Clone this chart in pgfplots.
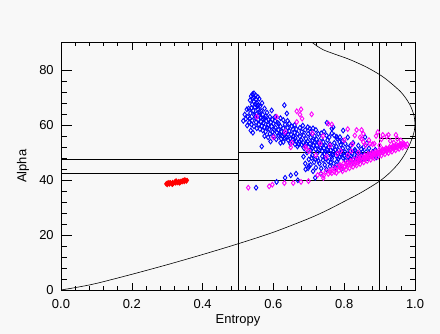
\documentclass[border=0pt]{standalone}
\usepackage{pgfplots}
\pgfplotsset{compat=1.18}
\usepackage{fontspec}
\setmainfont{Liberation Sans}
\definecolor{bg}{RGB}{248,248,248}
\definecolor{pblue}{RGB}{0,0,255}
\definecolor{pmag}{RGB}{255,0,255}
\definecolor{pred}{RGB}{255,0,0}
\pgfplotsset{
  hbase/.style={
    at={(61bp,44bp)}, anchor=south west,
    width=354bp, height=247.5bp, scale only axis,
    xmin=0, xmax=1, ymin=0, ymax=90,
    tick align=inside, xtick pos=both, ytick pos=both,
    axis line style={black, line width=0.7bp},
    every tick/.style={black, line width=0.6bp},
  }
}
\begin{document}
\begin{tikzpicture}
\fill[bg] (0,0) rectangle (440bp,334bp);
\begin{axis}[
  hbase,
  xtick={0,0.2,0.4,0.6,0.8,1.0},
  ytick={0,20,40,60,80},
  minor x tick num=4, minor y tick num=4,
  major tick length=10.5bp, minor tick length=5.5bp,
  xtick style={draw=none},
  axis background/.style={fill=bg},
  /pgf/number format/assume math mode=true,
  tick label style={font=\fontsize{13}{15}\selectfont},
  xticklabel style={/pgf/number format/.cd, fixed, fixed zerofill, precision=1, /tikz/.cd, yshift=-5.5bp},
  yticklabel style={xshift=-3.8bp},
  xlabel={Entropy}, ylabel={Alpha},
  every axis x label/.style={at={(axis description cs:0.5,0)}, anchor=center, yshift=-30bp, font=\fontsize{13}{15}\selectfont},
  every axis y label/.style={at={(axis description cs:-0.107,0.5)}, anchor=center, rotate=90, font=\fontsize{13}{15}\selectfont},
  clip=true,
]
% blue points
\addplot[only marks, mark=diamond, mark size=2.4bp, pblue, mark options={line width=0.9bp, fill=none}] coordinates {
(0.537,70.5)(0.541,71.2)(0.546,70.0)(0.551,69.3)(0.545,68.5)(0.553,68.0)(0.558,67.2)(0.540,67.5)(0.548,66.5)(0.556,65.8)
(0.562,66.8)(0.566,65.0)(0.543,65.2)(0.552,64.0)(0.560,63.5)(0.570,63.8)(0.575,62.5)(0.548,62.8)(0.557,62.0)(0.565,61.2)
(0.572,60.8)(0.580,61.5)(0.585,60.0)(0.528,63.0)(0.522,62.2)(0.532,61.0)(0.526,59.8)(0.538,60.2)(0.545,59.5)(0.553,58.8)
(0.562,58.5)(0.570,58.0)(0.578,57.6)(0.588,58.5)(0.595,59.5)(0.600,60.5)(0.542,57.2)(0.536,58.0)(0.590,56.8)(0.598,57.5)
(0.535,64.3)(0.530,66.0)(0.560,69.5)(0.568,68.0)(0.575,66.0)(0.582,64.5)(0.590,63.0)(0.597,62.0)(0.605,61.5)(0.612,60.8)
(0.606,59.0)(0.614,58.2)(0.620,59.5)(0.622,57.5)(0.628,58.8)(0.633,60.2)(0.640,59.0)(0.645,57.8)(0.630,56.5)(0.637,55.5)
(0.650,56.5)(0.655,58.5)(0.660,57.2)(0.662,55.2)(0.668,56.8)(0.675,55.8)(0.680,57.5)(0.686,56.2)(0.692,55.0)(0.698,56.8)
(0.705,55.5)(0.711,54.2)(0.716,56.0)(0.722,54.8)(0.728,53.5)(0.735,55.2)(0.741,53.8)(0.748,52.5)(0.753,54.5)(0.760,53.0)
(0.766,51.8)(0.772,53.5)(0.778,52.2)(0.784,50.8)(0.790,52.8)(0.796,51.5)(0.802,50.2)(0.810,51.8)(0.817,50.5)(0.823,49.5)
(0.830,51.0)(0.837,49.8)(0.845,48.8)(0.852,50.2)(0.858,49.0)(0.865,48.0)(0.872,49.5)
(0.631,67.2)(0.638,64.2)(0.525,65.7)(0.515,61.5)(0.519,63.8)(0.595,65.3)(0.605,63.0)(0.703,58.7)(0.751,60.8)(0.765,58.7)(0.779,55.7)
(0.600,56.0)(0.608,54.8)(0.615,56.2)(0.622,55.0)(0.628,53.8)(0.635,57.0)(0.642,54.5)(0.648,53.2)(0.655,54.8)(0.661,53.0)
(0.668,52.2)(0.674,54.0)(0.680,52.8)(0.687,51.5)(0.693,53.2)(0.700,52.0)(0.706,50.8)(0.713,52.5)(0.719,51.2)(0.725,50.0)
(0.732,51.8)(0.738,50.5)(0.745,49.5)(0.751,51.0)(0.758,49.8)(0.764,48.6)(0.770,50.2)(0.777,48.8)(0.783,47.6)(0.790,49.4)
(0.797,48.0)(0.804,47.0)(0.811,48.5)(0.818,47.2)(0.825,46.3)(0.833,47.8)(0.842,46.8)(0.850,47.5)
(0.615,60.5)(0.640,61.5)(0.660,60.0)(0.675,59.0)(0.690,58.2)(0.705,57.5)(0.720,58.2)(0.735,57.0)(0.750,56.2)(0.765,57.0)
(0.780,55.0)(0.795,54.2)(0.810,55.5)(0.825,53.5)(0.840,52.5)(0.855,52.0)(0.870,51.5)(0.880,50.2)(0.888,51.0)(0.895,49.5)
(0.797,58.0)(0.788,55.6)(0.864,53.4)(0.859,55.6)(0.769,59.2)
(0.700,47.5)(0.705,45.5)(0.710,49.0)(0.715,46.5)(0.720,44.5)(0.724,48.0)(0.730,46.0)(0.735,44.2)(0.740,47.2)(0.745,45.5)
(0.750,43.8)(0.755,46.8)(0.760,45.0)(0.765,47.8)(0.770,46.0)(0.775,44.5)(0.780,46.8)(0.786,45.2)(0.792,44.0)(0.712,43.2)
(0.698,44.3)(0.690,46.0)(0.685,48.5)(0.695,50.0)
(0.551,37.2)(0.609,39.3)(0.633,40.8)(0.649,41.7)(0.664,42.3)(0.691,43.9)(0.718,40.8)(0.734,42.3)(0.669,39.9)(0.567,52.2)
(0.545,71.5)(0.550,70.8)(0.556,70.2)(0.534,69.0)(0.542,69.8)(0.549,67.6)(0.538,66.2)(0.555,66.9)(0.561,64.8)(0.546,63.6)
(0.533,62.4)(0.540,61.6)(0.551,61.0)(0.559,60.2)(0.567,59.6)(0.575,59.2)(0.583,59.0)(0.572,62.0)(0.563,62.8)(0.578,63.2)
(0.586,62.0)(0.593,61.0)(0.602,58.3)(0.610,57.2)(0.618,56.8)(0.625,56.0)(0.633,55.2)(0.641,56.6)(0.648,55.0)(0.656,55.8)
(0.664,54.2)(0.671,53.0)(0.678,54.6)(0.684,53.6)(0.690,52.4)(0.697,54.0)(0.703,53.2)(0.709,51.6)(0.716,53.8)(0.723,52.6)
(0.729,51.0)(0.736,52.8)(0.743,51.6)(0.749,50.2)(0.756,52.0)(0.762,50.8)(0.768,49.2)(0.775,51.0)(0.781,49.8)(0.787,48.4)
(0.794,50.2)(0.800,48.8)(0.807,49.6)(0.813,48.0)(0.820,48.8)(0.827,47.5)(0.835,48.6)(0.843,47.6)(0.850,49.0)(0.857,47.8)
(0.620,62.5)(0.628,61.8)(0.645,60.5)(0.652,59.5)(0.665,58.5)(0.683,59.8)(0.697,59.2)(0.712,58.8)(0.727,56.8)(0.743,57.6)
(0.758,55.6)(0.772,56.2)(0.787,53.8)(0.803,53.2)(0.818,52.6)(0.832,50.6)(0.848,51.2)(0.862,50.2)(0.877,48.6)(0.890,48.2)
(0.708,48.0)(0.727,47.0)(0.748,47.8)(0.762,46.4)(0.738,48.6)(0.718,47.6)(0.700,45.0)(0.620,53.5)(0.592,54.0)(0.585,55.5)(0.575,56.0)
};
% magenta points
\addplot[only marks, mark=diamond, mark size=2.4bp, pmag, mark options={line width=0.9bp, fill=none}] coordinates {
(0.725,41.8)(0.735,42.3)(0.742,41.6)(0.748,43.0)(0.755,42.2)(0.760,43.5)(0.765,42.5)(0.770,44.2)(0.772,43.0)(0.778,42.6)
(0.780,44.8)(0.785,43.5)(0.788,45.5)(0.792,44.2)(0.795,43.2)(0.798,46.0)(0.802,44.8)(0.805,43.8)(0.808,46.5)(0.812,45.3)
(0.815,44.3)(0.818,47.0)(0.822,45.8)(0.825,44.8)(0.828,47.5)(0.832,46.3)(0.835,45.3)(0.838,48.0)(0.842,46.8)(0.845,45.8)
(0.848,48.5)(0.852,47.3)(0.855,46.4)(0.858,49.0)(0.862,47.8)(0.865,46.9)(0.868,49.5)(0.872,48.3)(0.875,47.4)(0.878,50.0)
(0.882,48.8)(0.885,47.9)(0.888,50.4)(0.892,49.3)(0.895,48.4)(0.898,50.8)(0.902,49.7)(0.905,48.9)(0.908,51.2)(0.912,50.2)
(0.915,49.4)(0.918,51.6)(0.922,50.6)(0.925,49.8)(0.928,52.0)(0.932,51.0)(0.935,50.3)(0.938,52.4)(0.942,51.5)(0.945,50.8)
(0.948,52.8)(0.952,51.9)(0.955,51.3)(0.958,53.1)(0.962,52.3)(0.965,51.8)(0.968,53.3)(0.972,52.6)(0.975,52.2)(0.978,53.0)
(0.80,45.0)(0.81,46.0)(0.82,46.6)(0.83,45.6)(0.84,47.4)(0.85,48.2)(0.86,48.4)(0.87,48.8)(0.88,49.4)(0.89,49.8)
(0.90,50.3)(0.91,50.8)(0.92,51.1)(0.93,51.5)(0.94,52.0)(0.95,52.3)(0.96,52.7)(0.97,53.0)(0.79,44.8)(0.775,43.8)
(0.76,42.8)(0.835,47.2)(0.845,47.6)(0.855,48.0)(0.865,48.5)(0.875,49.1)(0.885,49.6)(0.895,50.0)(0.905,50.6)(0.915,51.0)
(0.925,51.3)(0.935,51.8)(0.945,52.1)(0.955,52.5)(0.965,52.9)
(0.845,55.5)(0.870,54.5)(0.890,56.0)(0.905,54.8)(0.920,55.8)(0.930,54.2)(0.950,55.0)(0.960,54.4)(0.860,52.6)(0.880,53.0)
(0.900,52.6)(0.940,53.6)(0.830,56.2)(0.810,58.5)(0.800,54.5)(0.823,53.0)
(0.666,65.0)(0.678,65.7)(0.708,63.9)(0.675,63.8)(0.681,62.3)(0.666,61.1)(0.609,63.0)(0.553,63.0)(0.633,57.5)(0.755,60.5)
(0.652,53.6)(0.732,53.3)(0.765,60.2)(0.835,58.2)(0.849,58.2)(0.854,56.8)(0.895,57.4)(0.909,56.4)(0.925,56.4)(0.946,56.4)
(0.849,55.0)(0.873,53.2)(0.885,53.2)(0.854,53.8)(0.600,55.5)(0.700,50.5)(0.720,49.0)(0.750,48.5)(0.780,49.5)(0.760,52.5)
(0.790,50.5)(0.810,49.0)(0.820,50.5)(0.840,50.0)(0.710,57.0)(0.740,56.0)(0.690,52.0)
(0.529,37.2)(0.588,37.7)(0.597,38.3)(0.631,38.9)(0.656,38.9)(0.678,39.3)(0.699,39.6)(0.741,40.7)(0.649,51.9)(0.694,51.4)
};
% red cluster
\addplot[only marks, mark=diamond*, mark size=2.1bp, pred, mark options={line width=0.8bp}] coordinates {
(0.297,38.6)(0.300,38.3)(0.303,38.8)(0.306,38.5)(0.309,39.0)(0.312,38.6)(0.315,39.1)(0.318,38.8)(0.321,39.3)(0.324,38.9)
(0.327,39.4)(0.330,39.0)(0.333,39.5)(0.336,39.1)(0.339,39.6)(0.342,39.3)(0.345,39.7)(0.348,39.4)(0.351,39.8)(0.354,39.6)
(0.356,39.9)(0.305,39.1)(0.315,38.4)(0.325,39.7)(0.335,38.9)(0.345,39.9)(0.300,38.9)(0.350,40.1)
};
% zone boundaries
\addplot[black, line width=0.6bp] coordinates {(0.5,0)(0.5,90)};
\addplot[black, line width=0.6bp] coordinates {(0.9,0)(0.9,90)};
\addplot[black, line width=0.6bp] coordinates {(0,42.5)(0.5,42.5)};
\addplot[black, line width=0.6bp] coordinates {(0,47.5)(0.5,47.5)};
\addplot[black, line width=0.6bp] coordinates {(0.5,40)(0.9,40)};
\addplot[black, line width=0.6bp] coordinates {(0.5,50)(0.9,50)};
\addplot[black, line width=0.6bp] coordinates {(0.9,40)(1,40)};
\addplot[black, line width=0.6bp] coordinates {(0.9,55)(1,55)};
% feasible region boundary
\addplot[black, line width=0.6bp, smooth] coordinates {
(0,0)(0.05,1.1)(0.1,2.4)(0.2,5.7)(0.3,9.2)(0.4,12.9)(0.5,16.8)(0.6,21.0)(0.7,26.0)(0.75,28.9)
(0.8,32.2)(0.85,35.6)(0.9,39.6)(0.93,42.8)(0.955,46.3)(0.975,50.2)(0.99,54.5)(0.998,57.8)(1.0,60)
(0.997,63.5)(0.985,67.5)(0.960,72)(0.914,77.1)(0.878,80)(0.851,81.8)(0.812,84)(0.775,85.7)(0.740,87.4)(0.718,89.2)(0.705,90.5)
};
\end{axis}
% second axis: x ticks with their own (shorter) length
\begin{axis}[
  hbase,
  xtick={0,0.2,0.4,0.6,0.8,1.0}, xticklabels={},
  minor x tick num=4,
  ytick=\empty,
  major tick length=7bp, minor tick length=3.5bp,
]
\end{axis}
\end{tikzpicture}
\end{document}
